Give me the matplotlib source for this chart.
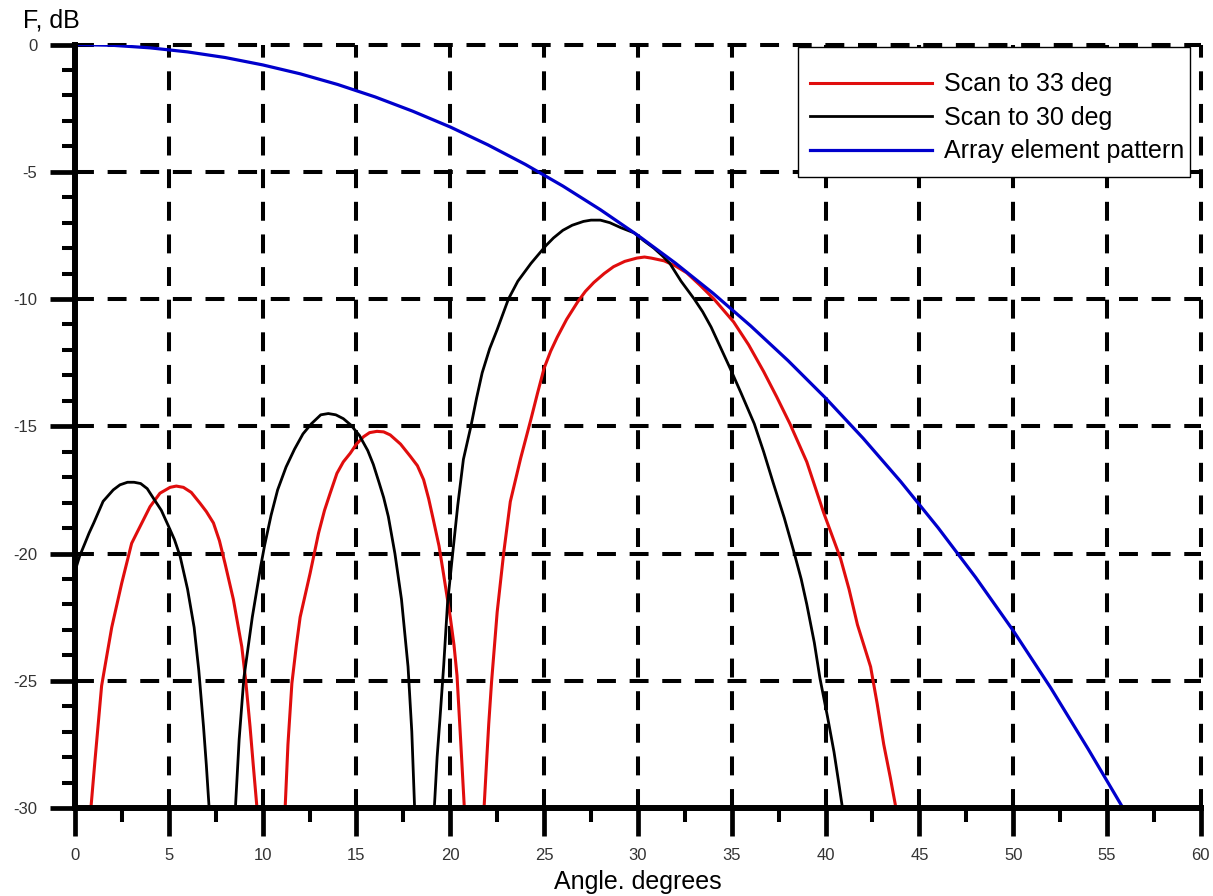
import numpy as np
import matplotlib
matplotlib.use("Agg")
import matplotlib.pyplot as plt
from matplotlib.patches import Rectangle
from matplotlib.ticker import MultipleLocator

plt.rcParams['font.family'] = ['Liberation Sans', 'DejaVu Sans']
plt.rcParams['axes.unicode_minus'] = False

# scan to 33 deg (red)
ang_33 = [0.85, 1.07, 1.42, 1.7, 1.96, 2.49, 3.02, 3.29, 4.0, 4.53, 5.07, 5.4, 5.78,
          6.2, 6.67, 7.0, 7.38, 7.7, 8.0, 8.44, 8.89, 9.1, 9.33, 9.5, 9.7,
          11.2, 11.35, 11.56, 11.8, 12.0, 12.53, 12.98, 13.3, 13.6, 13.96, 14.3,
          14.67, 15.0, 15.38, 15.7, 16.09, 16.45, 16.8, 17.35, 17.87, 18.25, 18.58,
          18.85, 19.1, 19.4, 19.64, 20.0, 20.2, 20.36, 20.55, 20.75,
          21.8, 21.95, 22.05, 22.2, 22.5, 22.85, 23.2, 23.75, 24.3, 24.65, 25.0, 25.35,
          25.7, 26.2, 26.8, 27.2, 27.65, 28.2, 28.7, 29.3, 29.95, 30.35, 30.7, 31.4,
          32.0, 32.6, 33.3, 34.05, 35.1, 35.9, 36.7, 37.4, 38.1, 39.0, 39.9, 40.8,
          41.25, 41.7, 42.4, 42.75, 43.1, 43.45, 43.75]
db_33 = [-30, -28.1, -25.2, -24.0, -22.9, -21.17, -19.6, -19.2, -18.16, -17.63, -17.4,
         -17.35, -17.4, -17.6, -18.03, -18.35, -18.8, -19.5, -20.4, -21.8, -23.66,
         -25.0, -26.8, -28.3, -30,
         -30, -27.5, -25.1, -23.6, -22.5, -20.78, -19.2, -18.3, -17.63, -16.85, -16.4,
         -16.06, -15.7, -15.41, -15.25, -15.2, -15.22, -15.34, -15.7, -16.18, -16.55,
         -17.1, -17.85, -18.68, -19.7, -20.8, -22.5, -23.6, -24.8, -27.3, -30,
         -30, -28.0, -26.7, -25.05, -22.3, -19.96, -17.96, -16.26, -14.72, -13.7,
         -12.72, -12.05, -11.5, -10.8, -10.1, -9.7, -9.35, -9.0, -8.73, -8.52, -8.39,
         -8.35, -8.39, -8.5, -8.7, -8.97, -9.45, -10.0, -10.9, -11.8, -12.85, -13.85,
         -14.9, -16.4, -18.4, -20.2, -21.4, -22.8, -24.45, -25.9, -27.5, -28.8, -30]

# scan to 30 deg (black)
ang_30 = [0.0, 0.25, 0.53, 0.75, 1.0, 1.5, 2.04, 2.4, 2.8, 3.15, 3.5, 3.85, 4.2, 4.6,
          5.0, 5.3, 5.6, 6.0, 6.35, 6.6, 6.85, 7.0, 7.15,
          8.55, 8.75, 9.0, 9.45, 9.9, 10.1, 10.45, 10.8, 11.25, 11.7, 12.15, 12.6,
          13.1, 13.5, 13.9, 14.3, 14.7, 15.15, 15.6, 15.9, 16.2, 16.45, 16.7, 17.05,
          17.4, 17.75, 17.95, 18.1,
          19.15, 19.3, 19.45, 19.65, 19.85, 20.1, 20.4, 20.7, 21.1, 21.4, 21.7, 22.1,
          22.5, 23.1, 23.6, 24.3, 25.1, 25.5, 26.0, 26.5, 27.1, 27.5, 28.0, 28.5,
          29.1, 29.8, 30.3, 30.85, 31.3, 31.7, 32.3, 33.0, 33.45, 33.9, 34.4, 34.9,
          35.5, 36.2, 36.7, 37.2, 37.8, 38.3, 38.7, 39.0, 39.4, 39.7, 40.1, 40.45,
          40.7, 40.9]
db_30 = [-20.7, -20.1, -19.6, -19.2, -18.8, -17.95, -17.5, -17.3, -17.2, -17.2, -17.25,
         -17.45, -17.85, -18.3, -18.95, -19.45, -20.1, -21.4, -22.9, -24.6, -26.8,
         -28.3, -30,
         -30, -27.3, -24.9, -22.5, -20.5, -19.7, -18.5, -17.5, -16.6, -15.9, -15.3,
         -14.9, -14.55, -14.5, -14.55, -14.7, -14.95, -15.35, -15.95, -16.5, -17.2,
         -17.8, -18.55, -20.0, -21.8, -24.45, -27.0, -30,
         -30, -28.0, -26.5, -24.4, -22.0, -20.2, -18.1, -16.3, -15.0, -13.9, -12.9,
         -11.95, -11.2, -10.0, -9.3, -8.6, -7.9, -7.6, -7.3, -7.1, -6.95, -6.9, -6.9,
         -7.0, -7.2, -7.4, -7.7, -8.0, -8.3, -8.6, -9.3, -10.0, -10.5, -11.1, -11.9,
         -12.7, -13.7, -14.9, -16.0, -17.2, -18.6, -19.9, -21.0, -22.0, -23.5, -24.9,
         -26.4, -27.8, -29.0, -30]

# array element pattern (blue)
ang_el = [0, 2, 4, 6, 8, 10, 12, 14, 16, 18, 20, 22, 24, 26, 28, 30, 32, 34, 36, 38,
          40, 42, 44, 46, 48, 50, 52, 54, 55.85]
db_el = [0.0, -0.03, -0.13, -0.29, -0.51, -0.8, -1.15, -1.57, -2.06, -2.62, -3.24,
         -3.94, -4.71, -5.56, -6.49, -7.5, -8.59, -9.77, -11.05, -12.42, -13.89,
         -15.47, -17.17, -18.99, -20.94, -23.03, -25.28, -27.69, -30.0]

labels = ["Scan to 33 deg", "Scan to 30 deg", "Array element pattern"]

fig = plt.figure(figsize=(12.13, 8.96), dpi=100)
ax = fig.add_axes([0.0618, 0.0982, 0.9282, 0.8521])

ax.plot(ang_33, db_33, color='#e00d0d', lw=2.2, label=labels[0])
ax.plot(ang_30, db_30, color='black', lw=2.0, label=labels[1])
ax.plot(ang_el, db_el, color='#0000cc', lw=2.3, label=labels[2])

ax.set_xlim(0, 60)
ax.set_ylim(-30, 0)
ax.xaxis.set_major_locator(MultipleLocator(5))
ax.xaxis.set_minor_locator(MultipleLocator(2.5))
ax.yaxis.set_major_locator(MultipleLocator(5))
ax.yaxis.set_minor_locator(MultipleLocator(1))

for s in ['top', 'right']:
    ax.spines[s].set_visible(False)
for s in ['left', 'bottom']:
    ax.spines[s].set_linewidth(4.3)

ax.tick_params(which='major', direction='out', width=3.4, color='black',
               labelsize=12, labelcolor='#333333', pad=9)
ax.tick_params(axis='x', which='major', length=20)
ax.tick_params(axis='y', which='major', length=18)
ax.tick_params(axis='x', which='minor', direction='out', length=10, width=2.9)
ax.tick_params(axis='y', which='minor', direction='out', length=9.5, width=2.9)

ax.grid(which='major', color='black', lw=2.9, linestyle=(0, (4.7, 3.4)))
for gl in ax.get_xgridlines() + ax.get_ygridlines():
    gl.set_clip_on(False)

ax.set_xlabel("Angle. degrees", fontsize=18)
ax.xaxis.set_label_coords(0.5, -0.097)
ax.xaxis.label.set_va('center')
ax.set_ylabel("F, dB", fontsize=18, rotation=0)
ax.yaxis.set_label_coords(-0.021, 1.032)
ax.yaxis.label.set_va('center')
ax.yaxis.label.set_ha('center')

# legend box drawn separately so the padding can be uneven like the original
box = Rectangle((0.642, 0.8265), 0.348, 0.1702, transform=ax.transAxes,
                facecolor='white', edgecolor='black', lw=1.0, zorder=4, clip_on=False)
ax.add_patch(box)
leg = ax.legend(loc='upper right', bbox_to_anchor=(0.985, 0.9635), borderaxespad=0,
                fontsize=18, handlelength=4.9, handletextpad=0.45, labelspacing=0.38,
                borderpad=0, frameon=False)
leg.set_zorder(5)

fig.savefig("out.png", dpi=100)
